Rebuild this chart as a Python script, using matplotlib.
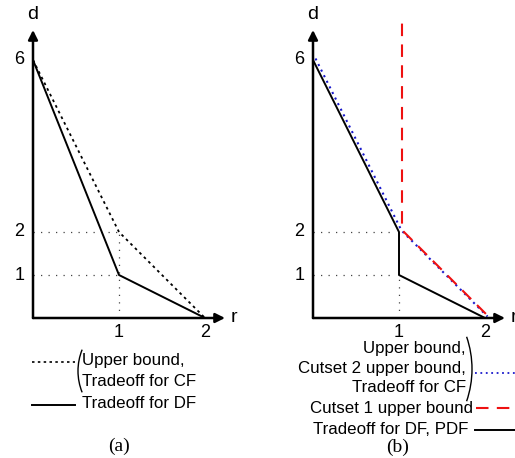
import matplotlib
matplotlib.use("Agg")
import matplotlib.pyplot as plt
import matplotlib.transforms as mtransforms
from matplotlib.patches import Arc

plt.rcParams['font.family'] = ['Liberation Sans', 'DejaVu Sans']

# data: rate r vs diversity d
r_ub = [0, 1, 2]
d_ub = [6, 2, 0]
r_df_a = [0, 1, 2]
d_df_a = [6, 1, 0]
r_cut1 = [1, 1, 2]
d_cut1 = [6.8, 2, 0]
r_df_b = [0, 1, 1, 2]
d_df_b = [6, 2, 1, 0]
xticks = [1, 2]
yticks = [1, 2, 6]

W, H = 515, 458
fig = plt.figure(figsize=(W / 100, H / 100), dpi=100)

def px_axes(x0, y0, x1, y1):
    # axes box from pixel corners (origin bottom-left at x0,y0)
    return fig.add_axes([x0 / W, 1 - y0 / H, (x1 - x0) / W, (y0 - y1) / H])

def setup(ax):
    ax.set_xlim(0, 192 / 86)
    ax.set_ylim(0, 288 / 43)
    ax.axis('off')
    ax.annotate('', xy=(1, 0), xytext=(0, 0), xycoords='axes fraction',
                arrowprops=dict(arrowstyle='-|>', color='black', lw=1.8,
                                mutation_scale=14, shrinkA=0, shrinkB=0))
    ax.annotate('', xy=(0, 1), xytext=(0, 0), xycoords='axes fraction',
                arrowprops=dict(arrowstyle='-|>', color='black', lw=1.8,
                                mutation_scale=14, shrinkA=0, shrinkB=0))
    ax.text(0, 1.025, 'd', transform=ax.transAxes, ha='center', va='bottom', fontsize=14)
    ax.text(1.03, 0, 'r', transform=ax.transAxes, ha='left', va='center', fontsize=14)
    for t in xticks:
        ax.text(t, -0.15, str(t), ha='center', va='top', fontsize=13)
    for t in yticks:
        ax.text(-0.1, t, str(t), ha='right', va='center', fontsize=13)

guide = dict(color='#444444', lw=0.9, ls=(0, (1, 5)))

# ---- panel (a)
axa = px_axes(33, 318, 225, 30)
setup(axa)
axa.plot([0, 1], [2, 2], **guide)
axa.plot([0, 1], [1, 1], **guide)
axa.plot([1, 1], [0, 2], **guide)
axa.plot(r_ub, d_ub, color='black', lw=1.3, ls=(0, (1.5, 2)))
axa.plot(r_df_a, d_df_a, color='black', lw=1.4)

# ---- panel (b)
axb = px_axes(313, 318, 505, 30)
setup(axb)
axb.plot([0, 0.93], [2, 2], **guide)
axb.plot([0, 0.93], [1, 1], **guide)
axb.plot([1, 1], [0, 1], **guide)
axb.plot(r_df_b, d_df_b, color='black', lw=1.4)
# small pixel offsets so overlapping bounds stay visible
off_blue = mtransforms.offset_copy(axb.transData, fig=fig, x=2.5, y=1.5, units='dots')
axb.plot(r_ub, d_ub, color='#1a1acc', lw=1.5, ls=(0, (1, 2)), transform=off_blue)
off_red = mtransforms.offset_copy(axb.transData, fig=fig, x=3.0, y=2.0, units='dots')
axb.plot(r_cut1, d_cut1, color='#ee1111', lw=1.5, ls=(0, (6, 4)), transform=off_red,
         clip_on=False)

# ---- legends (figure pixel coords)
def fx(x):
    return x / W

def fy(y):
    return 1 - y / H

def legline(x0, x1, y, **kw):
    fig.add_artist(plt.Line2D([fx(x0), fx(x1)], [fy(y), fy(y)], **kw))

def brace(xc, yc, r, t1, t2):
    # thin bracket drawn as a circular arc, pixel coords from top-left
    fig.add_artist(Arc((xc, H - yc), 2 * r, 2 * r, theta1=t1, theta2=t2,
                       transform=None, color='black', lw=1.0))

fs = 12.2
legline(32, 75, 362, color='black', lw=1.2, ls=(0, (1.5, 2)))
brace(135, 371, 57, 158, 202)
fig.text(fx(82), fy(361), 'Upper bound,', fontsize=fs, ha='left', va='center')
fig.text(fx(82), fy(381), 'Tradeoff for CF', fontsize=fs, ha='left', va='center')
legline(32, 75, 405, color='black', lw=1.4)
fig.text(fx(82), fy(404), 'Tradeoff for DF', fontsize=fs, ha='left', va='center')
fig.text(fx(119), fy(446), '(a)', fontsize=14, ha='center', va='center',
         family='Liberation Serif')

fig.text(fx(466), fy(349), 'Upper bound,', fontsize=fs, ha='right', va='center')
fig.text(fx(466), fy(369), 'Cutset 2 upper bound,', fontsize=fs, ha='right', va='center')
fig.text(fx(466), fy(388), 'Tradeoff for CF', fontsize=fs, ha='right', va='center')
brace(373, 369, 99, -19, 19)
legline(475, 515, 373, color='#1a1acc', lw=1.3, ls=(0, (1, 2)))
fig.text(fx(473), fy(408), 'Cutset 1 upper bound', fontsize=fs, ha='right', va='center')
legline(476, 515, 408, color='#ee1111', lw=1.5, ls=(0, (6, 4)))
fig.text(fx(468), fy(430), 'Tradeoff for DF, PDF', fontsize=fs, ha='right', va='center')
legline(475, 515, 430, color='black', lw=1.4)
fig.text(fx(398), fy(447), '(b)', fontsize=14, ha='center', va='center',
         family='Liberation Serif')

fig.savefig('out.png', dpi=100)
